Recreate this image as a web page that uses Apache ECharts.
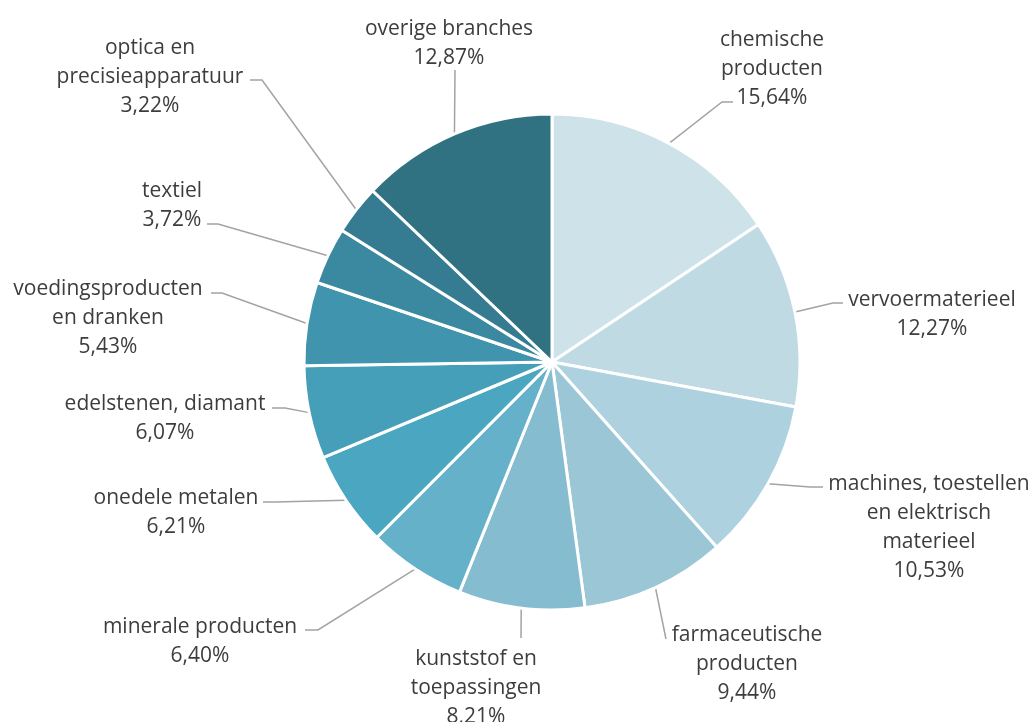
<!DOCTYPE html>
<html>
<head>
<meta charset="utf-8">
<script src="https://cdn.jsdelivr.net/npm/echarts@6/dist/echarts.min.js"></script>
<style>
  html, body { margin: 0; padding: 0; background: #fff; }
  #chart { width: 1035px; height: 722px; }
</style>
</head>
<body>
<div id="chart"></div>
<script>
// branches en aandeel (%)
var branches = [
    'chemische\nproducten',
    'vervoermaterieel',
    'machines, toestellen\nen elektrisch\nmaterieel',
    'farmaceutische\nproducten',
    'kunststof en\ntoepassingen',
    'minerale producten',
    'onedele metalen',
    'edelstenen, diamant',
    'voedingsproducten\nen dranken',
    'textiel',
    'optica en\nprecisieapparatuur',
    'overige branches'
];
var aandeel = [15.64, 12.27, 10.53, 9.44, 8.21, 6.40, 6.21, 6.07, 5.43, 3.72, 3.22, 12.87];
var kleuren = ['#CDE2E9', '#C0DAE4', '#ADD1DF', '#9AC6D6', '#85BCD0', '#64B1C9',
               '#4BA7C1', '#459FB8', '#4094AD', '#3B89A0', '#357C92', '#307282'];

// plaats van de labels: midden x, bovenkant y, eindpunt en knik van de verbindingslijn
var labelPos = [
    { x: 772, y: 26,  end: [733, 102], knik: [722, 102] },
    { x: 932, y: 286, end: [843, 303], knik: [833, 303] },
    { x: 929, y: 470, end: [823, 487], knik: [810, 487] },
    { x: 747, y: 621, end: [666, 639], knik: null },
    { x: 476, y: 645, end: [521, 638], knik: null },
    { x: 200, y: 613, end: [305, 630], knik: [318, 630] },
    { x: 176, y: 484, end: [263, 502], knik: [275, 502] },
    { x: 165, y: 390, end: [272, 408], knik: [285, 408] },
    { x: 108, y: 275, end: [211, 293], knik: [222, 293] },
    { x: 172, y: 177, end: [207, 224], knik: [218, 224] },
    { x: 150, y: 34,  end: [250, 80],  knik: [262, 80] },
    { x: 449, y: 15,  end: [455, 70],  knik: null }
];

var data = branches.map(function (b, i) {
    return { name: b, value: aandeel[i], itemStyle: { color: kleuren[i] } };
});

var myChart = echarts.init(document.getElementById('chart'));
var option = {
    animation: false,
    series: [{
        type: 'pie',
        center: [552, 362],
        radius: 248,
        startAngle: 90,
        clockwise: true,
        data: data,
        itemStyle: {
            borderColor: '#fff',
            borderWidth: 3
        },
        label: {
            show: true,
            position: 'outside',
            color: '#3d3d3d',
            fontSize: 21,
            fontFamily: 'Open Sans',
            lineHeight: 29,
            formatter: function (p) {
                return p.name + '\n' + p.value.toFixed(2).replace('.', ',') + '%';
            }
        },
        labelLine: {
            show: true,
            length: 20,
            length2: 10,
            lineStyle: { color: '#a3a3a3', width: 1.5 }
        },
        labelLayout: function (params) {
            var lp = labelPos[params.dataIndex];
            var rand = params.labelLinePoints[0];
            var knik = lp.knik || lp.end;
            return {
                x: lp.x,
                y: lp.y,
                align: 'center',
                verticalAlign: 'top',
                labelLinePoints: [rand, knik, lp.end]
            };
        }
    }]
};
myChart.setOption(option);
</script>
</body>
</html>
